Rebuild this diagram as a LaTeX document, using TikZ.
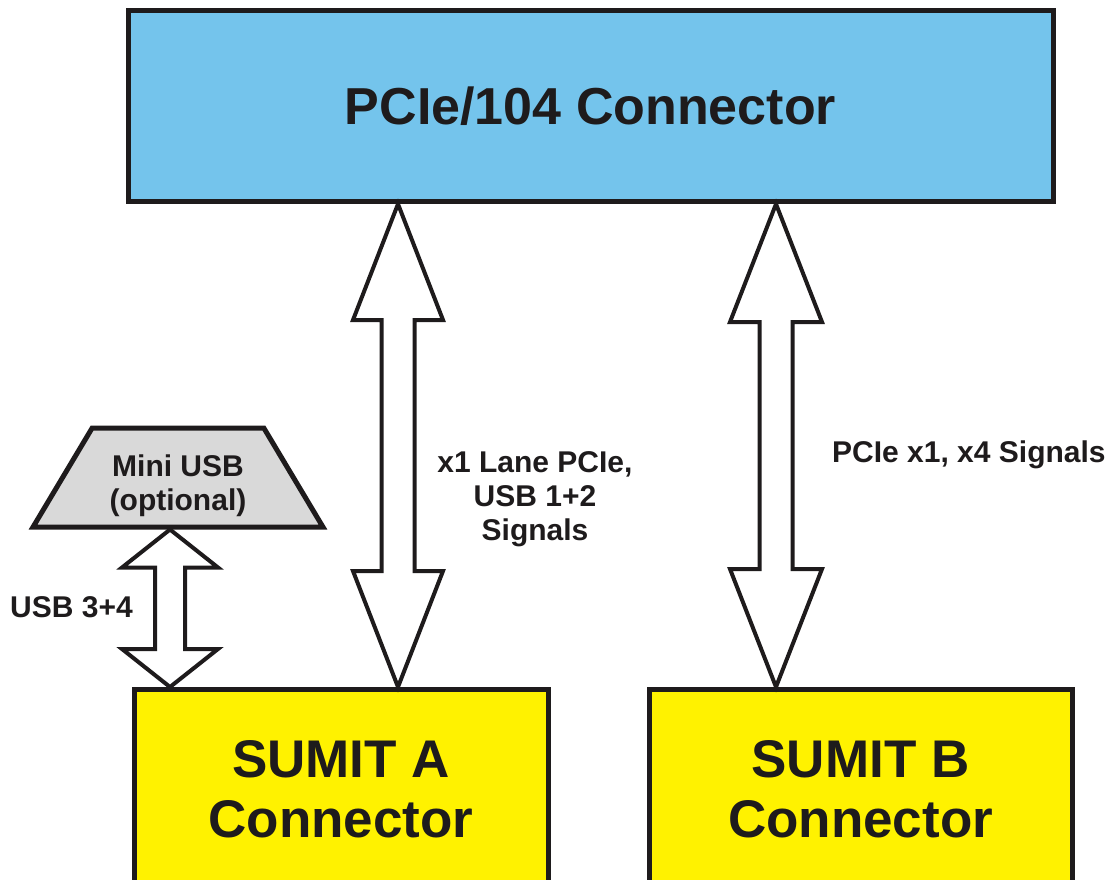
\documentclass[tikz,border=0pt]{standalone}
\usepackage{fontspec}
\setmainfont{Liberation Sans}
\usetikzlibrary{shapes.geometric,calc,positioning}

\definecolor{pcieblue}{RGB}{116,196,236}
\definecolor{sumityellow}{RGB}{255,242,0}
\definecolor{usbgray}{RGB}{217,217,217}
\definecolor{inkblack}{RGB}{30,27,28}

% double headed block arrow: tip, tip, head half width, shaft half width, head length
\newcommand{\busarrow}[5]{%
	\draw[bus_arrow] (#1) -- ($(#1)+(#3,#5)$) -- ($(#1)+(#4,#5)$) -- ($(#2)+(#4,-#5)$)
		-- ($(#2)+(#3,-#5)$) -- (#2) -- ($(#2)+(-#3,-#5)$) -- ($(#2)+(-#4,-#5)$)
		-- ($(#1)+(-#4,#5)$) -- ($(#1)+(-#3,#5)$) -- cycle;}

\begin{document}
\begin{tikzpicture}[x=1pt,y=-1pt,
	bus_box/.style={draw=inkblack,line width=5pt,fill=pcieblue,text=inkblack,font=\fontsize{52}{60}\selectfont\bfseries},
	conn_box/.style={draw=inkblack,line width=5pt,fill=sumityellow,text=inkblack,align=center,font=\fontsize{53}{60}\selectfont\bfseries},
	usb_node/.style={trapezium,trapezium stretches=true,trapezium angle=71,draw=inkblack,line width=5pt,fill=usbgray},
	bus_arrow/.style={draw=inkblack,line width=4pt,fill=white,line join=miter},
	sig_label/.style={inner sep=0pt,align=center,text=inkblack,font=\fontsize{30}{34}\selectfont\bfseries}]

		\clip (0,0) rectangle (1120,880);

		\node[bus_box,minimum width=925pt,minimum height=191pt] (pcie) at (590.5,106) {PCIe/104 Connector};
		\node[conn_box,minimum width=414pt,minimum height=200pt,anchor=north] (sumA) at (341,687) {SUMIT A\\Connector};
		\node[conn_box,minimum width=423pt,minimum height=200pt,anchor=north] (sumB) at (860.5,687) {SUMIT B\\Connector};
		\node[usb_node,minimum width=290pt,minimum height=99pt] (usb) at (178,477.5) {};
		\node[sig_label] (usbtxt) at ($(usb.center)+(0,8)$) {Mini USB\\(optional)};

		\coordinate (a1) at (pcie.south -| 398,0);
		\coordinate (a2) at (sumA.north -| a1);
		\coordinate (b1) at (pcie.south -| 776,0);
		\coordinate (b2) at (sumB.north -| b1);
		\coordinate (u1) at (usb.south -| 170,0);
		\coordinate (u2) at (sumA.north -| u1);

		\busarrow{a1}{a2}{45}{16.5}{116}
		\busarrow{b1}{b2}{46}{16.5}{118}
		\busarrow{u1}{u2}{48}{15}{38}

		\node[sig_label] (lane) at (535,499) {x1 Lane PCIe,\\USB 1+2\\Signals};
		\node[sig_label,anchor=west] (sigB) at (832,455) {PCIe x1, x4 Signals};
		\node[sig_label,anchor=west] (usb34) at (10,607) {USB 3+4};
\end{tikzpicture}
\end{document}
